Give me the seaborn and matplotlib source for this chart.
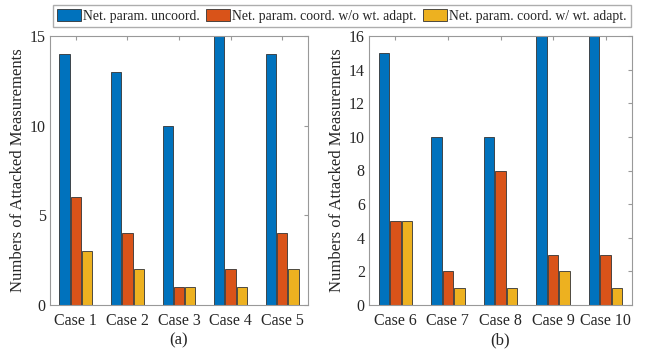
import matplotlib
matplotlib.use("Agg")
import matplotlib.pyplot as plt
import seaborn as sns
import pandas as pd

series = ["Net. param. uncoord.",
          "Net. param. coord. w/o wt. adapt.",
          "Net. param. coord. w/ wt. adapt."]
colors = ["#0072BD", "#D95319", "#EDB120"]

cases_a = ["Case 1", "Case 2", "Case 3", "Case 4", "Case 5"]
uncoord_a = [14, 13, 10, 15, 14]
coord_noadapt_a = [6, 4, 1, 2, 4]
coord_adapt_a = [3, 2, 1, 1, 2]

cases_b = ["Case 6", "Case 7", "Case 8", "Case 9", "Case 10"]
uncoord_b = [15, 10, 10, 16, 16]
coord_noadapt_b = [5, 2, 8, 3, 3]
coord_adapt_b = [5, 1, 1, 2, 1]

yticks_a = [0, 5, 10, 15]
yticks_b = [0, 2, 4, 6, 8, 10, 12, 14, 16]


def long_frame(cases, *vals):
    rows = []
    for name, v in zip(series, vals):
        for c, y in zip(cases, v):
            rows.append({"case": c, "series": name, "value": y})
    return pd.DataFrame(rows)


df_a = long_frame(cases_a, uncoord_a, coord_noadapt_a, coord_adapt_a)
df_b = long_frame(cases_b, uncoord_b, coord_noadapt_b, coord_adapt_b)

sns.set_style("white")
plt.rcParams["font.family"] = ["Liberation Serif", "DejaVu Serif"]

fig = plt.figure(figsize=(6.46, 3.52), dpi=100)
ax_a = fig.add_axes([50 / 646, 1 - 305 / 352, 258 / 646, 269 / 352])
ax_b = fig.add_axes([369 / 646, 1 - 305 / 352, 263 / 646, 269 / 352])

for ax, df, yt, sub in [(ax_a, df_a, yticks_a, "(a)"), (ax_b, df_b, yticks_b, "(b)")]:
    sns.barplot(data=df, x="case", y="value", hue="series", palette=colors,
                width=0.66, gap=0.1, edgecolor="#333333", linewidth=0.6,
                ax=ax, legend=False, saturation=1)
    ax.set_xlim(-0.5, 4.5)
    ax.set_ylim(yt[0], yt[-1])
    ax.set_yticks(yt)
    ax.set_ylabel("Numbers of Attacked Measurements", fontsize=12, labelpad=3)
    ax.set_xlabel(sub, fontsize=12, labelpad=2.5)
    ax.tick_params(axis="both", labelsize=11.5, direction="in", length=3,
                   color="#999999", top=True, right=True,
                   labelcolor="#262626")
    ax.tick_params(axis="x", pad=5.5)
    ax.tick_params(axis="y", pad=3)
    for s in ax.spines.values():
        s.set_color("#999999")
        s.set_linewidth(0.8)

handles = [plt.Rectangle((0, 0), 1, 1, facecolor=c, edgecolor="#333333", linewidth=0.6)
           for c in colors]
fig.legend(handles, series, loc="upper center", bbox_to_anchor=(342 / 646, 1 - 5 / 352),
           ncol=3, fontsize=9.9, frameon=True, fancybox=False, edgecolor="#999999",
           handlelength=1.75, handleheight=0.95, handletextpad=0.15, columnspacing=0.45,
           borderpad=0.3, borderaxespad=0.0)

fig.savefig("out.png", dpi=100)
